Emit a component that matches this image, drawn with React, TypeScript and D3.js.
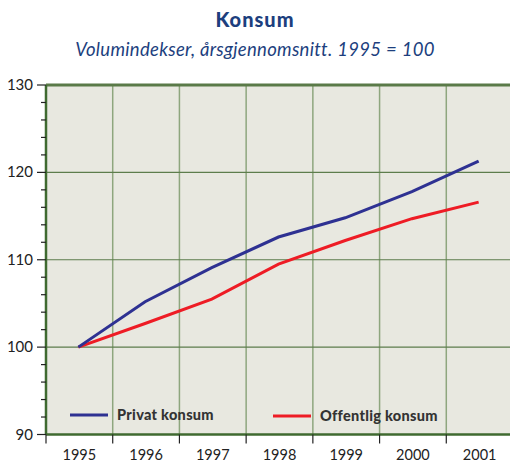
import * as d3 from "d3";
import { useRef, useEffect } from "react";

const years = ["1995", "1996", "1997", "1998", "1999", "2000", "2001"];
const privat = [100, 105.2, 109.1, 112.6, 114.8, 117.8, 121.3];
const offentlig = [100, 102.7, 105.5, 109.5, 112.2, 114.7, 116.6];
const yTicks = [90, 100, 110, 120, 130];

export default function App() {
  const svgRef = useRef(null);

  useEffect(() => {
    const width = 510;
    const height = 462;
    const left = 46;
    const right = 513;
    const top = 85;
    const bottom = 434.5;
    const font = "Lato, 'DejaVu Sans', sans-serif";

    const svg = d3.select(svgRef.current).attr("width", width).attr("height", height);
    svg.selectAll("*").remove();

    const x = d3.scaleBand().domain(years).range([left, right]);
    const y = d3.scaleLinear().domain([90, 130]).range([bottom, top]);

    // title
    svg.append("text").attr("x", 255).attr("y", 27).attr("text-anchor", "middle")
      .attr("font-family", font).attr("font-weight", 900).attr("font-size", 20)
      .attr("letter-spacing", 1).attr("fill", "#1d3f7e").text("Konsum");
    svg.append("text").attr("x", 255).attr("y", 56).attr("text-anchor", "middle")
      .attr("font-family", font).attr("font-style", "italic").attr("font-size", 18.5)
      .attr("letter-spacing", 0.3).attr("fill", "#1d3f7e")
      .text("Volumindekser, årsgjennomsnitt. 1995 = 100");

    // plot background
    svg.append("rect").attr("x", left).attr("y", top).attr("width", right - left)
      .attr("height", bottom - top).attr("fill", "#e8e8e0");

    // vertical grid
    svg.append("g").selectAll("line").data(years.slice(1)).join("line")
      .attr("x1", (d) => x(d)!).attr("x2", (d) => x(d)!)
      .attr("y1", top).attr("y2", bottom)
      .attr("stroke", "#8ea67e").attr("stroke-width", 1.5);

    // horizontal grid
    svg.append("g").selectAll("line").data(yTicks.slice(1, -1)).join("line")
      .attr("x1", left).attr("x2", right)
      .attr("y1", (d) => y(d)).attr("y2", (d) => y(d))
      .attr("stroke", "#5d7d4c").attr("stroke-width", 1.2);

    // borders
    svg.append("line").attr("x1", left).attr("x2", right).attr("y1", top).attr("y2", top)
      .attr("stroke", "#5a7a48").attr("stroke-width", 3);
    svg.append("line").attr("x1", left).attr("x2", right).attr("y1", bottom).attr("y2", bottom)
      .attr("stroke", "#3f6a30").attr("stroke-width", 2.5);
    svg.append("line").attr("x1", left).attr("x2", left).attr("y1", top).attr("y2", bottom)
      .attr("stroke", "#3f6a30").attr("stroke-width", 2.5);

    // y axis ticks
    const minor = d3.range(90, 130.1, 2);
    svg.append("g").selectAll("line").data(minor).join("line")
      .attr("x1", (d) => (d % 10 === 0 ? 37 : 41)).attr("x2", left)
      .attr("y1", (d) => y(d)).attr("y2", (d) => y(d))
      .attr("stroke", "#222").attr("stroke-width", 1.2);
    svg.append("g").selectAll("text").data(yTicks).join("text")
      .attr("x", 33).attr("y", (d) => y(d) + 5).attr("text-anchor", "end")
      .attr("font-family", font).attr("font-size", 15).attr("fill", "#222")
      .text((d) => d);

    // x axis ticks
    svg.append("g").selectAll("line").data(years).join("line")
      .attr("x1", (d) => x(d)!).attr("x2", (d) => x(d)!)
      .attr("y1", bottom).attr("y2", bottom + 9)
      .attr("stroke", "#222").attr("stroke-width", 1.2);
    svg.append("g").selectAll("text").data(years).join("text")
      .attr("x", (d) => x(d)! + x.bandwidth() / 2).attr("y", 460)
      .attr("text-anchor", "middle").attr("font-family", font).attr("font-size", 14.5)
      .attr("fill", "#222").text((d) => d);

    const line = d3.line<number>()
      .x((_, i) => x(years[i])! + x.bandwidth() / 2 - 1)
      .y((d) => y(d));

    svg.append("path").datum(offentlig).attr("d", line).attr("fill", "none")
      .attr("stroke", "#ee1c25").attr("stroke-width", 3);
    svg.append("path").datum(privat).attr("d", line).attr("fill", "none")
      .attr("stroke", "#2e3192").attr("stroke-width", 3);

    // legend
    const legend = [
      { label: "Privat konsum", color: "#2e3192", x: 70, y: 415 },
      { label: "Offentlig konsum", color: "#ee1c25", x: 273, y: 416 },
    ];
    const lg = svg.append("g").selectAll("g").data(legend).join("g");
    lg.append("line").attr("x1", (d) => d.x).attr("x2", (d) => d.x + 38)
      .attr("y1", (d) => d.y).attr("y2", (d) => d.y)
      .attr("stroke", (d) => d.color).attr("stroke-width", 3);
    lg.append("text").attr("x", (d) => d.x + 47).attr("y", (d) => d.y + 5)
      .attr("font-family", font).attr("font-weight", 900).attr("font-size", 14.5)
      .attr("letter-spacing", 0.3).attr("fill", "#333").text((d) => d.label);
  }, []);

  return (
    <svg ref={svgRef} style={{ position: "absolute", left: 0, top: 0 }} />
  );
}
